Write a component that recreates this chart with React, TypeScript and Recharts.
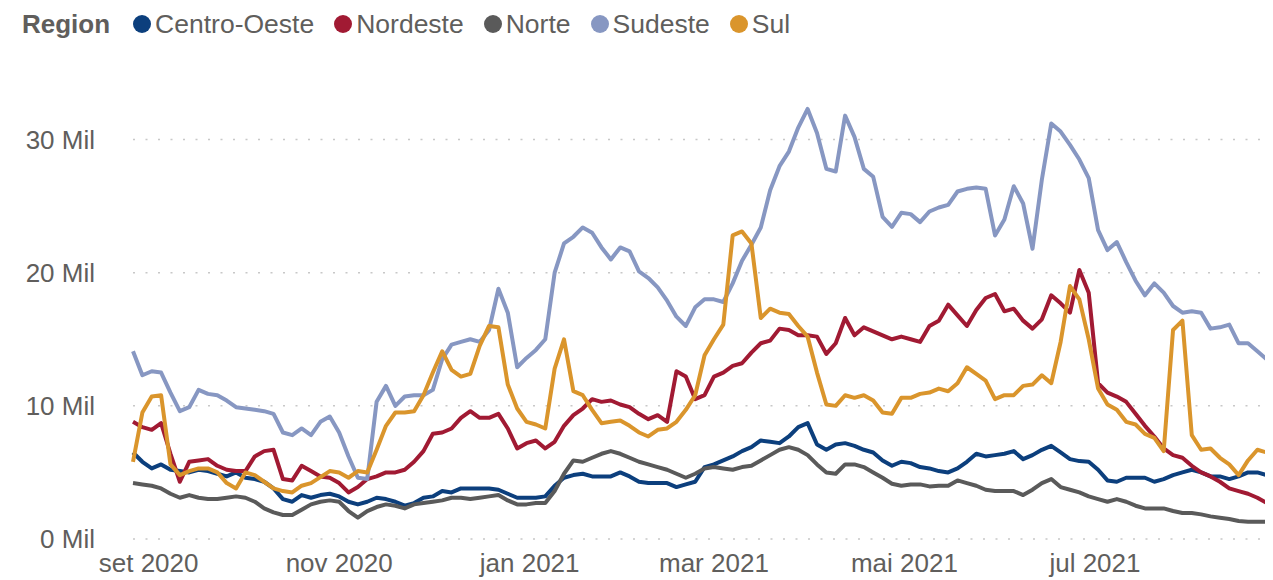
import React from 'react';
import { LineChart, Line, XAxis, YAxis, CartesianGrid } from 'recharts';

const DAY = 86400000;
const START = Date.UTC(2020, 7, 27);

// sample days (every 3 days from 27 Aug 2020, last point 27 Aug 2021)
const sampleDays: number[] = [];
for (let d = 0; d <= 363; d += 3) sampleDays.push(d);
sampleDays.push(365);

// values in "Mil" (thousands)
const centroOeste = [
  6.5, 5.8, 5.3, 5.6, 5.2, 5.1, 5.0, 5.2, 5.1, 4.9, 4.7, 5.0, 4.6, 4.5, 4.3, 3.8, 3.0, 2.8, 3.3, 3.1, 3.3,
  3.4, 3.2, 2.8, 2.6, 2.8, 3.1, 3.0, 2.8, 2.5, 2.7, 3.1, 3.2, 3.6, 3.5, 3.8, 3.8, 3.8, 3.8, 3.7, 3.4,
  3.1, 3.1, 3.1, 3.2, 4.0, 4.6, 4.8, 4.9, 4.7, 4.7, 4.7, 5.0, 4.7, 4.3, 4.2, 4.2, 4.2, 3.9, 4.1, 4.3, 5.4,
  5.6, 5.9, 6.2, 6.6, 6.9, 7.4, 7.3, 7.2, 7.7, 8.4, 8.7, 7.1, 6.7, 7.1, 7.2, 7.0, 6.7, 6.5, 5.9, 5.5,
  5.8, 5.7, 5.4, 5.3, 5.1, 5.0, 5.3, 5.8, 6.4, 6.2, 6.3, 6.4, 6.6, 6.0, 6.3, 6.7, 7.0, 6.5, 6.0, 5.85,
  5.8, 5.2, 4.4, 4.3, 4.6, 4.6, 4.6, 4.3, 4.5, 4.8, 5.0, 5.2, 5.0, 4.7, 4.7, 4.5, 4.7, 5.0, 5.0, 4.8,
  4.2,
];
const nordeste = [
  8.8, 8.4, 8.2, 8.7, 6.4, 4.3, 5.8, 5.9, 6.0, 5.5, 5.2, 5.1, 5.1, 6.2, 6.6, 6.7, 4.5, 4.4, 5.5, 5.1, 4.7,
  4.6, 4.2, 3.5, 3.9, 4.5, 4.7, 5.0, 5.0, 5.2, 5.8, 6.6, 7.9, 8.0, 8.3, 9.1, 9.6, 9.1, 9.1, 9.4, 8.3,
  6.8, 7.2, 7.4, 6.8, 7.3, 8.5, 9.3, 9.8, 10.5, 10.3, 10.4, 10.1, 9.9, 9.4, 9.0, 9.3, 8.8, 12.6, 12.2, 10.5, 10.8,
  12.2, 12.5, 13.0, 13.2, 14.0, 14.7, 14.9, 15.8, 15.7, 15.3, 15.3, 15.2, 13.9, 14.7, 16.6, 15.3, 15.9, 15.6, 15.3, 15.0,
  15.2, 15.0, 14.8, 16.0, 16.4, 17.6, 16.8, 16.0, 17.2, 18.1, 18.4, 17.1, 17.3, 16.4, 15.8, 16.5, 18.3, 17.7, 17.0, 20.2,
  18.5, 11.7, 11.0, 10.7, 10.3, 9.4, 8.5, 7.7, 6.8, 6.3, 6.1, 5.5, 5.0, 4.7, 4.3, 3.8, 3.6, 3.4, 3.1, 2.7,
  2.6,
];
const norte = [
  4.2, 4.1, 4.0, 3.8, 3.4, 3.1, 3.3, 3.1, 3.0, 3.0, 3.1, 3.2, 3.1, 2.8, 2.3, 2.0, 1.8, 1.8, 2.2, 2.6, 2.8,
  2.9, 2.8, 2.1, 1.6, 2.1, 2.4, 2.6, 2.5, 2.3, 2.6, 2.7, 2.8, 2.9, 3.1, 3.1, 3.0, 3.1, 3.2, 3.3, 2.9,
  2.6, 2.6, 2.7, 2.7, 3.6, 4.9, 5.9, 5.8, 6.1, 6.4, 6.6, 6.4, 6.1, 5.8, 5.6, 5.4, 5.2, 4.9, 4.6, 4.9, 5.3,
  5.4, 5.3, 5.2, 5.4, 5.5, 5.9, 6.3, 6.7, 6.9, 6.7, 6.3, 5.6, 5.0, 4.9, 5.6, 5.6, 5.4, 5.0, 4.6, 4.15,
  4.0, 4.1, 4.1, 3.95, 4.0, 4.0, 4.4, 4.2, 4.0, 3.7, 3.6, 3.6, 3.6, 3.3, 3.7, 4.2, 4.5, 3.9, 3.7, 3.5,
  3.2, 3.0, 2.8, 3.0, 2.8, 2.5, 2.3, 2.3, 2.3, 2.1, 1.95, 1.95, 1.85, 1.7, 1.6, 1.5, 1.35, 1.3, 1.3, 1.3,
  1.2,
];
const sudeste = [
  14.1, 12.3, 12.6, 12.5, 11.0, 9.6, 9.9, 11.2, 10.9, 10.8, 10.4, 9.9, 9.8, 9.7, 9.6, 9.4, 8.0, 7.8, 8.3, 7.8, 8.8,
  9.2, 8.0, 6.2, 4.6, 4.5, 10.3, 11.5, 10.0, 10.7, 10.8, 10.8, 11.2, 13.5, 14.6, 14.8, 15.0, 14.8, 15.7, 18.8, 17.0,
  12.9, 13.6, 14.2, 15.0, 20.0, 22.2, 22.7, 23.4, 23.0, 21.9, 21.0, 21.9, 21.6, 20.1, 19.6, 18.9, 17.9, 16.7, 16.0, 17.4, 18.0,
  18.0, 17.8, 19.2, 20.9, 22.1, 23.4, 26.2, 28.0, 29.1, 30.9, 32.3, 30.5, 27.8, 27.6, 31.8, 30.2, 27.8, 27.2, 24.2, 23.45,
  24.5, 24.4, 23.8, 24.6, 24.9, 25.1, 26.1, 26.3, 26.4, 26.3, 22.8, 24.0, 26.5, 25.2, 21.8, 27.0, 31.2, 30.6, 29.6, 28.5,
  27.1, 23.2, 21.7, 22.3, 20.8, 19.4, 18.3, 19.2, 18.5, 17.5, 17.0, 17.1, 17.0, 15.8, 15.9, 16.1, 14.7, 14.7, 14.1, 13.5,
  12.6,
];
const sul = [
  5.8, 9.5, 10.7, 10.8, 5.6, 4.8, 5.1, 5.3, 5.3, 5.0, 4.2, 3.8, 5.0, 4.8, 4.3, 3.8, 3.6, 3.5, 4.0, 4.2, 4.65,
  5.1, 5.0, 4.6, 5.1, 5.0, 6.7, 8.5, 9.5, 9.5, 9.6, 10.8, 12.5, 14.1, 12.7, 12.2, 12.4, 14.5, 16.0, 15.9, 11.6,
  9.8, 8.8, 8.6, 8.3, 12.8, 15.0, 11.1, 10.8, 9.7, 8.7, 8.8, 8.9, 8.5, 8.0, 7.7, 8.2, 8.3, 8.8, 9.7, 10.8, 13.8,
  15.0, 16.1, 22.8, 23.1, 22.2, 16.6, 17.3, 17.0, 16.9, 16.0, 15.2, 12.5, 10.1, 10.0, 10.8, 10.6, 10.8, 10.4, 9.5, 9.4,
  10.6, 10.6, 10.9, 11.0, 11.3, 11.1, 11.7, 12.9, 12.4, 11.9, 10.5, 10.8, 10.8, 11.5, 11.6, 12.3, 11.7, 14.8, 19.0, 18.0,
  15.0, 11.3, 10.1, 9.7, 8.8, 8.6, 7.9, 7.6, 6.6, 15.7, 16.4, 7.8, 6.7, 6.8, 6.1, 5.6, 4.8, 5.9, 6.7, 6.5,
  5.3,
];

const Y_MAX = 35;
const yTicks = [0, 10, 20, 30];
const tickMonths = [
  [2020, 8], [2020, 10], [2021, 0], [2021, 2], [2021, 4], [2021, 6],
];
const monthNames = ['jan', 'fev', 'mar', 'abr', 'mai', 'jun', 'jul', 'ago', 'set', 'out', 'nov', 'dez'];

const SERIES = [
  { key: 'centroOeste', name: 'Centro-Oeste', color: '#0c3f7d', values: centroOeste },
  { key: 'nordeste', name: 'Nordeste', color: '#a11a33', values: nordeste },
  { key: 'norte', name: 'Norte', color: '#5a5a5a', values: norte },
  { key: 'sudeste', name: 'Sudeste', color: '#8797c2', values: sudeste },
  { key: 'sul', name: 'Sul', color: '#da952c', values: sul },
];

const data = sampleDays.map((d, i) => {
  const row: Record<string, number> = { date: START + d * DAY };
  SERIES.forEach((s) => { row[s.key] = s.values[i]; });
  return row;
});

const xTicks = tickMonths.map(([y, m]) => Date.UTC(y, m, 1));
const formatDate = (t: number) => {
  const d = new Date(t);
  return `${monthNames[d.getUTCMonth()]} ${d.getUTCFullYear()}`;
};

const FONT = '"Liberation Sans", Arial, sans-serif';
const TEXT = '#605e5c';

// grid rows only at the y ticks (no extra line at the top of the plot)
const gridRows = ({ offset }: any) =>
  yTicks.map((t) => offset.top + offset.height * (1 - t / Y_MAX));

export default function App() {
  return (
    <div style={{ position: 'relative', width: 1265, height: 572, fontFamily: FONT }}>
      <div style={{ position: 'absolute', top: 1, left: 14, display: 'flex', alignItems: 'center', lineHeight: '30px', fontSize: 26.5, color: TEXT, whiteSpace: 'nowrap' }}>
        <span style={{ fontWeight: 'bold', fontSize: 26, marginRight: 3 }}>Region</span>
        {SERIES.map((s) => (
          <span key={s.key} style={{ display: 'flex', alignItems: 'center', marginLeft: 20 }}>
            <span style={{ width: 18, height: 18, borderRadius: '50%', background: s.color, display: 'inline-block', marginRight: 4 }} />
            {s.name}
          </span>
        ))}
      </div>
      <LineChart width={1265} height={572} data={data} margin={{ top: 65, right: 0, bottom: 0, left: 0 }}>
        <CartesianGrid
          vertical={false}
          stroke="#c8c8c8"
          strokeWidth={1.5}
          strokeDasharray="2 10.5"
          horizontalCoordinatesGenerator={gridRows}
        />
        <XAxis
          dataKey="date"
          type="number"
          scale="time"
          domain={[START, START + 365 * DAY]}
          ticks={xTicks}
          tickFormatter={formatDate}
          interval={0}
          axisLine={false}
          tickLine={false}
          tickSize={0}
          tickMargin={15}
          height={41}
          tick={{ fill: TEXT, fontSize: 26, fontFamily: FONT }}
        />
        <YAxis
          domain={[0, Y_MAX]}
          ticks={yTicks}
          tickFormatter={(v: number) => `${v} Mil`}
          axisLine={false}
          tickLine={false}
          tickSize={0}
          tickMargin={38}
          width={125}
          tick={{ fill: TEXT, fontSize: 26, fontFamily: FONT }}
        />
        {SERIES.map((s) => (
          <Line
            key={s.key}
            type="linear"
            dataKey={s.key}
            name={s.name}
            stroke={s.color}
            strokeWidth={4}
            strokeLinejoin="round"
            dot={false}
            activeDot={false}
            isAnimationActive={false}
          />
        ))}
      </LineChart>
    </div>
  );
}
